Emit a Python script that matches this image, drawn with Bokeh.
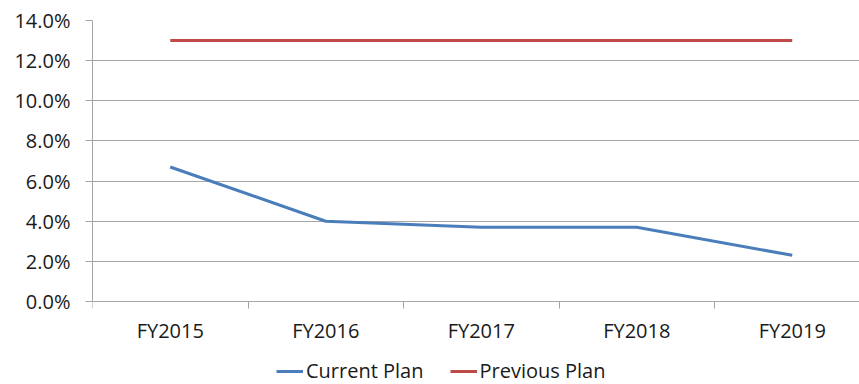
from bokeh.plotting import figure
from bokeh.models import (Range1d, FixedTicker, NumeralTickFormatter, Legend,
                          LegendItem, ColumnDataSource, LinearAxis)
from bokeh.embed import file_html
from bokeh.resources import INLINE

# Fiscal years and plan rates (fractions)
years = ["FY2015", "FY2016", "FY2017", "FY2018", "FY2019"]
current_plan = [0.067, 0.040, 0.037, 0.037, 0.023]
previous_plan = [0.130, 0.130, 0.130, 0.130, 0.130]
y_ticks = [0.0, 0.02, 0.04, 0.06, 0.08, 0.10, 0.12, 0.14]

FONT = "Open Sans"
TEXT_COLOR = "#1a1a1a"
AXIS_GRAY = "#a6a6a6"

xs = list(range(len(years)))
src = ColumnDataSource(dict(x=xs, cur=current_plan, prev=previous_plan))

# the frame runs to the bottom edge so the legend can live inside it;
# the y range dips below zero to leave room for category labels and legend
y_top = 0.14
y_bottom = -y_top * 83 / 281

p = figure(width=859, height=384, output_backend="svg", toolbar_location=None,
           x_range=Range1d(-0.5, -0.5 + 767 / 155.5),
           y_range=Range1d(y_bottom, y_top),
           x_axis_location=None,
           min_border_left=92, min_border_right=0, min_border_top=20,
           min_border_bottom=0)
p.outline_line_color = None
p.background_fill_color = "white"
p.border_fill_color = "white"

r_cur = p.line("x", "cur", source=src, line_color="#4A7EBB", line_width=3)
r_prev = p.line("x", "prev", source=src, line_color="#BE4B48", line_width=3)

# x axis pinned at 0%: labels at category centres, ticks on category boundaries
xa = LinearAxis(fixed_location=0)
xa.ticker = FixedTicker(ticks=xs, minor_ticks=[i - 0.5 for i in range(len(years))])
xa.major_label_overrides = {i: y for i, y in zip(xs, years)}
xa.major_tick_line_color = None
xa.major_tick_out = 0
xa.minor_tick_line_color = AXIS_GRAY
xa.minor_tick_out = 7
xa.minor_tick_in = 0
xa.axis_line_color = AXIS_GRAY
xa.major_label_text_font = FONT
xa.major_label_text_font_size = "20px"
xa.major_label_text_color = TEXT_COLOR
xa.major_label_standoff = 8
p.add_layout(xa, "below")

ya = p.yaxis[0]
ya.ticker = FixedTicker(ticks=y_ticks)
ya.bounds = (0, y_top)
ya.formatter = NumeralTickFormatter(format="0.0%")
ya.minor_tick_line_color = None
ya.major_tick_line_color = AXIS_GRAY
ya.major_tick_out = 7
ya.major_tick_in = 0
ya.axis_line_color = AXIS_GRAY
ya.major_label_text_font = FONT
ya.major_label_text_font_size = "20px"
ya.major_label_text_color = TEXT_COLOR
ya.major_label_standoff = 15

p.xgrid.grid_line_color = None
p.ygrid.grid_line_color = AXIS_GRAY
p.ygrid.grid_line_width = 1

legend = Legend(items=[LegendItem(label="Current Plan", renderers=[r_cur]),
                       LegendItem(label="Previous Plan", renderers=[r_prev])],
                orientation="horizontal", location=(184, 0),
                label_text_font=FONT, label_text_font_size="20px",
                label_text_color=TEXT_COLOR, glyph_width=27, glyph_height=20,
                label_standoff=3, label_height=20,
                spacing=26, padding=0, margin=0, border_line_color=None,
                background_fill_alpha=0)
p.add_layout(legend, "center")

open("out.html", "w").write(file_html(p, INLINE))
